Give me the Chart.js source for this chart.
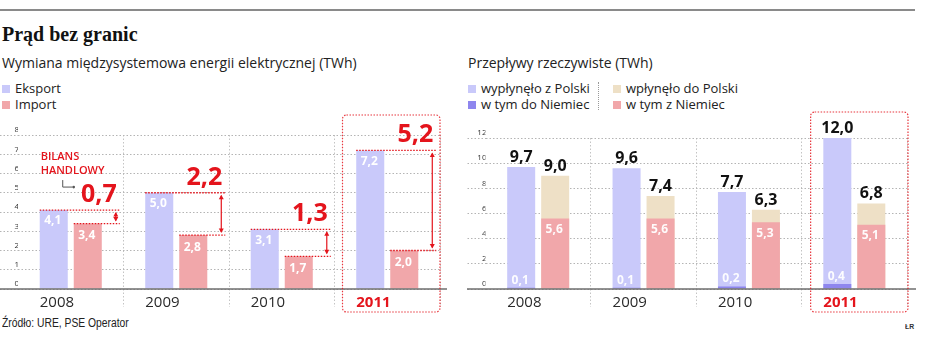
<!DOCTYPE html>
<html><head><meta charset="utf-8">
<script src="https://cdn.jsdelivr.net/npm/chart.js@4"></script>
<style>
html,body{margin:0;padding:0;background:#fff;}
body{width:936px;height:350px;position:relative;overflow:hidden;font-family:"Open Sans",sans-serif;color:#222;}
.abs{position:absolute;white-space:nowrap;}
#rule{position:absolute;left:0;top:9px;width:915px;height:2px;background:#8a8a8a;}
#title{left:2px;top:23px;font:bold 20px/22px "Liberation Serif",serif;color:#111;}
.sub{top:54px;font-size:14px;line-height:18px;color:#222;}
.leg{font-size:13px;line-height:16px;color:#222;}
.sq{display:inline-block;width:8px;height:8px;margin-right:5px;vertical-align:0px;}
#src{left:2px;top:315px;font:12px/16px "Liberation Sans",sans-serif;color:#222;transform:scaleX(0.86);transform-origin:0 0;}
#lr{left:905px;top:322px;font:bold 8px/10px "Liberation Sans",sans-serif;color:#333;transform:scaleX(0.85);transform-origin:0 0;}
#sep{position:absolute;left:598px;top:82px;width:0;height:28px;border-left:1px dotted #999;}
.cv{position:absolute;top:0;}
</style></head>
<body>
<div id="rule"></div>
<div id="title" class="abs">Prąd bez granic</div>
<div class="abs sub" style="left:2px;">Wymiana międzysystemowa energii elektrycznej (TWh)</div>
<div class="abs sub" style="left:468px;">Przepływy rzeczywiste (TWh)</div>
<div class="abs leg" style="left:2px;top:80px;"><span class="sq" style="background:#c9c9fa"></span>Eksport</div>
<div class="abs leg" style="left:2px;top:96px;"><span class="sq" style="background:#f1a7aa"></span>Import</div>
<div class="abs leg" style="left:468px;top:80px;"><span class="sq" style="background:#c9c9fa"></span>wypłynęło z Polski</div>
<div class="abs leg" style="left:468px;top:96px;"><span class="sq" style="background:#8e86ee"></span>w tym do Niemiec</div>
<div id="sep"></div>
<div class="abs leg" style="left:613px;top:80px;"><span class="sq" style="background:#eee0c6"></span>wpłynęło do Polski</div>
<div class="abs leg" style="left:613px;top:96px;"><span class="sq" style="background:#f1a7aa"></span>w tym z Niemiec</div>
<div id="src" class="abs">Źródło: URE, PSE Operator</div>
<div id="lr" class="abs">ŁR</div>
<canvas id="c1" class="cv" style="left:0px" width="460" height="350"></canvas>
<canvas id="c2" class="cv" style="left:460px" width="476" height="350"></canvas>
<script>
// ---- data ----
const years = ['2008', '2009', '2010', '2011'];
const exportVals = [4.1, 5.0, 3.1, 7.2];
const importVals = [3.4, 2.8, 1.7, 2.0];
const balanceVals = [0.7, 2.2, 1.3, 5.2];
const outTotal = [9.7, 9.6, 7.7, 12.0];
const outToGermany = [0.1, 0.1, 0.2, 0.4];
const inTotal = [9.0, 7.4, 6.3, 6.8];
const inFromGermany = [5.6, 5.6, 5.3, 5.1];
const leftTicks = [0, 1, 2, 3, 4, 5, 6, 7, 8];
const rightTicks = [0, 2, 4, 6, 8, 10, 12];

// ---- styles ----
const LAV = '#c9c9fa', PINK = '#f1a7aa', BEIGE = '#eee0c6', PURP = '#8e86ee';
const RED = '#e4141c';
const GRID = '#b4b4b4';
const FONT = '"Open Sans", sans-serif';
const fmt = v => v.toFixed(1).replace('.', ',');

function seg(ctx, x1, y1, x2, y2) { ctx.beginPath(); ctx.moveTo(x1, y1); ctx.lineTo(x2, y2); ctx.stroke(); }
function rrect(ctx, x, y, w, h, r) {
  ctx.beginPath();
  ctx.moveTo(x + r, y); ctx.lineTo(x + w - r, y); ctx.arcTo(x + w, y, x + w, y + r, r);
  ctx.lineTo(x + w, y + h - r); ctx.arcTo(x + w, y + h, x + w - r, y + h, r);
  ctx.lineTo(x + r, y + h); ctx.arcTo(x, y + h, x, y + h - r, r);
  ctx.lineTo(x, y + r); ctx.arcTo(x, y, x + r, y, r); ctx.closePath(); ctx.stroke();
}
function catLeft(xs, i) { const w = (xs.right - xs.left) / xs.ticks.length; return xs.left + w * i; }

function commonScales(maxV, step, yWidth, tickVals) {
  return {
    x: {
      stacked: false,
      grid: {
        offset: true, drawTicks: true, tickLength: 18,
        color: c => (c.index === 0 || c.index === years.length) ? 'rgba(0,0,0,0)' : '#c4c4c4',
        tickColor: c => (c.index === 0 || c.index === years.length) ? 'rgba(0,0,0,0)' : '#c4c4c4',
        tickBorderDash: [1.5, 2], lineWidth: 1, borderDash: [1.5, 2]
      },
      border: { display: false, dash: [1.5, 2] },
      ticks: {
        align: 'start', labelOffset: -31, padding: -13,
        color: c => c.index === years.length - 1 ? RED : '#2a2a2a',
        font: c => ({ family: FONT, size: 15, weight: c.index === years.length - 1 ? 'bold' : 'normal' })
      },
      afterFit: s => { s.height = 61; }
    },
    y: {
      min: 0, max: maxV,
      afterBuildTicks: s => { s.ticks = tickVals.map(v => ({ value: v })); },
      grid: { color: GRID, lineWidth: 1, drawTicks: true, tickLength: 18, tickColor: GRID, tickBorderDash: [1.5, 2], borderDash: [1.5, 2] },
      border: { display: false, dash: [1.5, 2] },
      ticks: { stepSize: step, padding: -19, labelOffset: -5, color: '#333', font: { family: FONT, size: 8 } },
      afterFit: s => { s.width = yWidth; }
    }
  };
}

const leftPlugin = {
  id: 'leftAnno',
  afterDatasetsDraw(chart) {
    const ctx = chart.ctx, xs = chart.scales.x, ys = chart.scales.y, ca = chart.chartArea;
    const mE = chart.getDatasetMeta(0), mI = chart.getDatasetMeta(1);
    ctx.save();
    const y0 = ys.getPixelForValue(0);
    ctx.strokeStyle = '#6e6e6e'; ctx.lineWidth = 1.5;
    seg(ctx, 0, y0, ca.right + 7, y0);
    mE.data.forEach((eb, i) => {
      const ib = mI.data[i];
      const eL = eb.x - eb.width / 2, iL = ib.x - ib.width / 2, iR = ib.x + ib.width / 2;
      ctx.fillStyle = '#fff'; ctx.font = 'bold 12px ' + FONT; ctx.textAlign = 'center'; ctx.textBaseline = 'middle';
      ctx.fillText(fmt(exportVals[i]), eb.x - 1, eb.y + 11);
      ctx.fillText(fmt(importVals[i]), ib.x - 1, ib.y + 12);
      const ax = iR + 14, lx = iR + 18;
      ctx.strokeStyle = RED; ctx.lineWidth = 1.3; ctx.setLineDash([1.5, 1.5]);
      seg(ctx, eL, eb.y, lx, eb.y);
      seg(ctx, iL, ib.y, lx, ib.y);
      ctx.setLineDash([]); ctx.lineWidth = 1.2;
      seg(ctx, ax, eb.y + 3, ax, ib.y - 3);
      ctx.fillStyle = RED;
      ctx.beginPath(); ctx.moveTo(ax, eb.y + 2); ctx.lineTo(ax - 2.5, eb.y + 6.5); ctx.lineTo(ax + 2.5, eb.y + 6.5); ctx.closePath(); ctx.fill();
      ctx.beginPath(); ctx.moveTo(ax, ib.y - 2); ctx.lineTo(ax - 2.5, ib.y - 6.5); ctx.lineTo(ax + 2.5, ib.y - 6.5); ctx.closePath(); ctx.fill();
      ctx.font = 'bold 25px ' + FONT; ctx.textAlign = 'right'; ctx.textBaseline = 'alphabetic';
      ctx.fillText(fmt(balanceVals[i]), ax + 1, eb.y - 8);
      if (i === 0) {
        ctx.font = '600 11px ' + FONT; ctx.textAlign = 'left'; ctx.textBaseline = 'middle';
        ctx.fillText('BILANS', eL + 1, eb.y - 53);
        ctx.fillText('HANDLOWY', eL + 1, eb.y - 39);
        ctx.strokeStyle = '#555'; ctx.lineWidth = 1;
        ctx.beginPath(); ctx.moveTo(eL + 23, eb.y - 30); ctx.lineTo(eL + 23, eb.y - 23); ctx.lineTo(eL + 33, eb.y - 23); ctx.stroke();
        ctx.fillStyle = '#555'; ctx.beginPath(); ctx.arc(eL + 34, eb.y - 23, 1.3, 0, Math.PI * 2); ctx.fill();
      }
    });
    const bx = catLeft(xs, years.length - 1) + 8;
    ctx.strokeStyle = 'rgba(228,20,28,0.85)'; ctx.lineWidth = 1.2; ctx.setLineDash([1.5, 1.5]);
    rrect(ctx, bx, 115, ca.right - bx, 312 - 115, 4);
    ctx.restore();
  }
};

const rightPlugin = {
  id: 'rightAnno',
  afterDatasetsDraw(chart) {
    const ctx = chart.ctx, xs = chart.scales.x, ys = chart.scales.y, ca = chart.chartArea;
    const mDe = chart.getDatasetMeta(0), mOut = chart.getDatasetMeta(1), mZ = chart.getDatasetMeta(2), mIn = chart.getDatasetMeta(3);
    ctx.save();
    const y0 = ys.getPixelForValue(0);
    ctx.strokeStyle = '#6e6e6e'; ctx.lineWidth = 1.5;
    seg(ctx, 7, y0, ca.right + 9, y0);
    mOut.data.forEach((ob, i) => {
      const de = mDe.data[i], zb = mZ.data[i], ib = mIn.data[i];
      ctx.fillStyle = '#111'; ctx.font = 'bold 16px ' + FONT; ctx.textAlign = 'center'; ctx.textBaseline = 'alphabetic';
      ctx.fillText(fmt(outTotal[i]), ob.x, ob.y - 5);
      ctx.fillText(fmt(inTotal[i]), ib.x, ib.y - 5);
      ctx.fillStyle = 'rgba(255,255,255,0.95)'; ctx.font = 'bold 12px ' + FONT;
      ctx.fillText(fmt(outToGermany[i]), de.x - 1, de.y - 4);
      ctx.textBaseline = 'middle';
      ctx.fillText(fmt(inFromGermany[i]), zb.x - 1, zb.y + 11);
    });
    const bx = catLeft(xs, years.length - 1) + 9;
    ctx.strokeStyle = 'rgba(228,20,28,0.85)'; ctx.lineWidth = 1.2; ctx.setLineDash([1.5, 1.5]);
    rrect(ctx, bx, 112, ca.right + 1 - bx, 312 - 112, 4);
    ctx.restore();
  }
};

const barOpts = { categoryPercentage: 0.645, barPercentage: 0.824, borderWidth: 0 };

new Chart(document.getElementById('c1'), {
  type: 'bar',
  data: {
    labels: years,
    datasets: [
      Object.assign({ label: 'Eksport', data: exportVals, backgroundColor: LAV }, barOpts),
      Object.assign({ label: 'Import', data: importVals, backgroundColor: PINK }, barOpts)
    ]
  },
  options: {
    responsive: false, animation: false, devicePixelRatio: 1,
    layout: { padding: { left: 0, right: 20, top: 135, bottom: 0 } },
    plugins: { legend: { display: false }, tooltip: { enabled: false } },
    scales: commonScales(8, 1, 18, leftTicks)
  },
  plugins: [leftPlugin]
});

const rs = commonScales(12, 2, 25.5, rightTicks);
rs.x.stacked = true; rs.y.stacked = false;
new Chart(document.getElementById('c2'), {
  type: 'bar',
  data: {
    labels: years,
    datasets: [
      Object.assign({ label: 'w tym do Niemiec', data: outToGermany, backgroundColor: PURP, stack: 'out' }, barOpts),
      Object.assign({ label: 'wypłynęło z Polski', data: outTotal, backgroundColor: LAV, stack: 'out' }, barOpts),
      Object.assign({ label: 'w tym z Niemiec', data: inFromGermany, backgroundColor: PINK, stack: 'in' }, barOpts),
      Object.assign({ label: 'wpłynęło do Polski', data: inTotal, backgroundColor: BEIGE, stack: 'in' }, barOpts)
    ]
  },
  options: {
    responsive: false, animation: false, devicePixelRatio: 1,
    layout: { padding: { left: 0, right: 29, top: 138, bottom: 0 } },
    plugins: { legend: { display: false }, tooltip: { enabled: false } },
    scales: rs
  },
  plugins: [rightPlugin]
});
</script>
</body></html>
